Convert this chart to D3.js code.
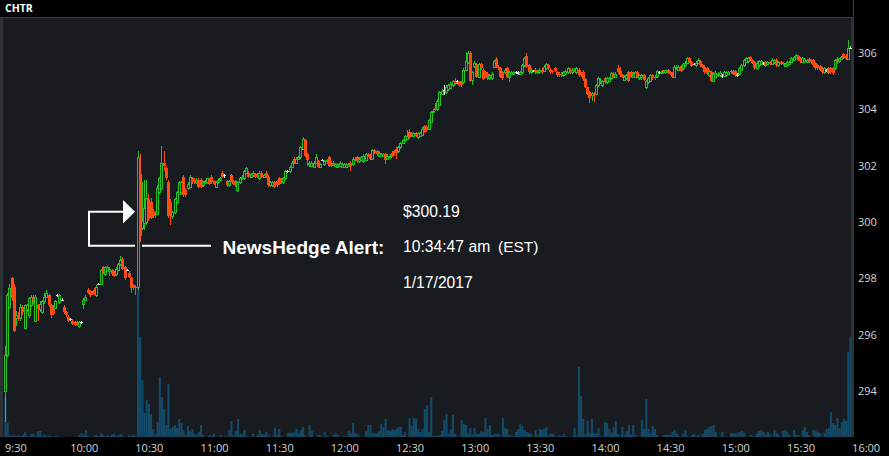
<!DOCTYPE html>
<html><head><meta charset="utf-8">
<script src="https://cdn.jsdelivr.net/npm/d3@7"></script>
<style>html,body{margin:0;padding:0;background:#000;overflow:hidden}svg{display:block}</style>
</head><body>
<svg id="chart" width="889" height="456"></svg>
<script>
// ---------------- data ----------------
const symbol = "CHTR";
const sessionStart = [2017, 0, 17, 9, 30];
const sessionEnd = [2017, 0, 17, 16, 0];
const priceTicks = [294, 296, 298, 300, 302, 304, 306];
const alertLabel = "NewsHedge Alert:";
const alertPrice = "$300.19";
const alertTime = "10:34:47 am";
const alertZone = "(EST)";
const alertDate = "1/17/2017";

const open = [
294.00,295.30,297.00,298.00,297.70,296.60,296.70,296.60,297.00,296.25,
296.90,296.70,297.05,297.35,296.50,297.05,296.90,296.80,297.20,297.35,
297.40,297.05,297.00,296.95,297.40,297.15,297.25,297.00,296.80,296.65,
296.55,296.50,296.45,296.45,296.30,296.45,297.10,297.25,297.60,297.55,
297.50,297.60,297.40,297.80,297.80,298.40,298.15,298.30,298.25,298.30,
298.20,298.15,298.30,298.50,298.70,298.40,298.30,298.20,298.00,297.75,
297.70,297.70,301.70,299.80,299.95,300.00,300.80,300.70,300.35,300.30,
300.30,301.05,301.20,302.10,301.90,301.40,300.70,300.20,300.35,300.70,
301.00,301.05,301.60,301.15,301.20,301.25,301.55,301.50,301.40,301.50,
301.50,301.30,301.40,301.40,301.50,301.60,301.45,301.25,301.40,301.50,
301.75,301.65,301.45,301.30,301.65,301.45,301.45,301.15,301.40,301.55,
301.55,301.75,301.75,301.60,301.65,301.70,301.70,301.55,301.75,301.60,
301.75,301.60,301.30,301.30,301.40,301.45,301.55,301.50,301.40,301.55,
301.80,301.80,301.95,302.25,302.10,302.25,302.30,302.60,302.90,302.40,
302.05,302.00,301.95,302.10,302.15,301.95,302.20,302.05,302.15,302.30,
302.10,302.10,302.00,301.95,302.00,301.95,301.95,301.95,302.00,302.10,
302.05,302.25,302.30,302.15,302.20,302.15,302.20,302.40,302.35,302.25,
302.55,302.50,302.35,302.35,302.35,302.40,302.25,302.30,302.45,302.50,
302.60,302.50,302.65,302.80,302.90,302.95,303.20,303.15,303.05,303.15,
303.00,303.05,303.10,303.40,303.35,303.30,303.55,303.90,304.05,304.00,
304.15,304.55,304.68,304.60,304.70,304.75,304.85,304.98,304.98,304.98,
304.95,304.95,305.40,305.67,306.00,305.03,305.53,305.60,305.15,305.60,
305.40,305.30,305.25,305.10,305.10,305.50,305.77,305.50,305.45,305.30,
305.30,305.45,305.15,305.25,305.25,305.30,305.28,305.25,305.30,305.55,
305.90,305.55,305.30,305.35,305.40,305.30,305.30,305.40,305.35,305.45,
305.55,305.40,305.35,305.45,305.30,305.25,305.25,305.20,305.25,305.30,
305.40,305.30,305.35,305.30,305.40,305.25,305.30,305.07,304.78,304.60,
304.50,304.57,304.55,304.85,304.95,304.85,305.10,304.96,304.98,305.10,
305.25,305.15,305.45,305.35,305.20,305.05,305.10,305.30,305.30,305.15,
305.15,305.30,305.10,305.15,305.20,304.80,304.95,305.00,305.20,305.15,
305.17,305.30,305.28,305.38,305.30,305.38,305.30,305.25,305.13,305.45,
305.40,305.52,305.45,305.55,305.63,305.80,305.67,305.60,305.55,305.63,
305.70,305.55,305.50,305.45,305.22,305.30,305.00,305.15,305.20,305.20,
305.17,305.17,305.20,305.25,305.35,305.35,305.35,305.22,305.25,305.38,
305.56,305.67,305.70,305.85,305.74,305.67,305.45,305.56,305.60,305.62,
305.67,305.60,305.67,305.60,305.67,305.74,305.56,305.67,305.65,305.53,
305.56,305.60,305.67,305.75,305.81,305.88,305.81,305.67,305.70,305.67,
305.77,305.74,305.74,305.63,305.56,305.52,305.45,305.30,305.38,305.45,
305.45,305.45,305.45,305.77,305.70,305.78,305.95,305.90,305.78,306.18];

const high = [
295.60,297.50,297.80,298.05,297.80,296.85,296.80,297.10,297.05,297.10,
297.10,297.35,297.40,297.40,297.40,297.10,297.20,297.25,297.50,297.60,
297.45,297.10,297.05,297.25,297.45,297.45,297.30,297.05,296.85,296.70,
296.60,296.55,296.50,296.50,296.50,296.50,297.30,297.40,297.65,297.60,
297.55,297.65,297.75,297.85,298.35,298.45,298.45,298.45,298.40,298.35,
298.25,298.40,298.55,298.80,298.75,298.45,298.35,298.25,298.05,297.80,
297.75,302.50,302.40,301.40,301.50,301.50,301.00,300.85,300.45,300.40,
301.30,301.60,302.70,302.50,302.00,301.50,300.80,300.40,300.85,301.10,
301.45,301.45,301.65,301.20,301.40,301.65,301.60,301.55,301.55,301.55,
301.55,301.45,301.50,301.55,301.55,301.65,301.50,301.45,301.55,301.60,
301.80,301.70,301.50,301.50,301.70,301.50,301.50,301.45,301.60,301.65,
301.85,301.95,301.80,301.75,301.80,301.75,301.75,301.80,301.80,301.70,
301.80,301.65,301.45,301.45,301.45,301.50,301.60,301.55,301.60,301.85,
301.85,302.00,302.15,302.30,302.30,302.35,302.70,303.00,302.95,302.45,
302.15,302.15,302.15,302.40,302.20,302.10,302.25,302.20,302.25,302.35,
302.15,302.15,302.10,302.10,302.15,302.10,302.10,302.10,302.10,302.15,
302.30,302.30,302.35,302.30,302.35,302.40,302.45,302.45,302.40,302.60,
302.60,302.55,302.50,302.45,302.45,302.45,302.40,302.40,302.50,302.55,
302.65,302.70,302.85,302.95,303.10,303.25,303.30,303.20,303.20,303.20,
303.20,303.20,303.35,303.45,303.45,303.65,303.95,304.00,304.20,304.35,
304.65,304.70,304.85,304.85,304.90,304.95,305.05,305.10,305.05,305.00,
305.00,305.45,306.02,306.05,306.05,305.35,305.70,305.65,305.65,305.65,
305.45,305.35,305.30,305.25,305.30,305.75,305.85,305.55,305.50,305.35,
305.45,305.50,305.35,305.35,305.35,305.35,305.35,305.35,305.60,305.85,
306.00,305.60,305.45,305.40,305.45,305.40,305.45,305.45,305.55,305.65,
305.60,305.45,305.40,305.50,305.35,305.30,305.30,305.35,305.40,305.50,
305.45,305.45,305.45,305.50,305.45,305.30,305.40,305.10,304.80,304.65,
304.60,304.60,304.90,305.15,305.10,305.05,305.15,305.15,305.15,305.30,
305.30,305.30,305.55,305.50,305.25,305.20,305.25,305.35,305.35,305.30,
305.35,305.35,305.25,305.25,305.25,305.05,305.15,305.25,305.25,305.20,
305.40,305.35,305.35,305.40,305.40,305.42,305.35,305.30,305.55,305.55,
305.55,305.55,305.65,305.70,305.85,305.85,305.70,305.65,305.70,305.80,
305.75,305.60,305.55,305.50,305.40,305.35,305.30,305.35,305.30,305.35,
305.25,305.35,305.35,305.35,305.40,305.40,305.40,305.28,305.50,305.60,
305.78,305.85,305.85,305.88,305.78,305.70,305.70,305.75,305.75,305.68,
305.72,305.70,305.70,305.80,305.78,305.80,305.70,305.70,305.68,305.62,
305.72,305.72,305.85,305.88,305.96,305.92,305.85,305.85,305.82,305.78,
305.82,305.78,305.78,305.68,305.60,305.56,305.50,305.50,305.42,305.50,
305.48,305.50,305.78,305.85,305.82,305.88,306.00,305.95,306.45,306.22];

const low = [
292.90,295.20,296.90,297.20,296.10,296.30,296.50,296.50,296.70,296.20,
296.80,296.60,297.00,297.10,296.45,296.50,296.80,296.75,297.10,297.30,
297.00,296.60,296.70,296.90,297.35,297.10,297.20,296.75,296.65,296.45,
296.50,296.35,296.30,296.30,296.25,296.40,296.90,297.20,297.45,297.35,
297.40,297.40,297.35,297.75,297.75,298.15,298.10,298.25,298.10,298.10,
298.05,298.10,298.25,298.45,298.30,297.95,298.25,298.00,297.50,297.60,
297.40,297.60,299.30,299.70,299.70,299.90,300.05,300.10,300.15,300.15,
300.25,301.00,301.15,301.80,301.50,300.15,299.90,300.10,300.30,300.65,
300.95,301.00,300.90,300.90,301.15,301.20,301.35,301.35,301.35,301.20,
301.20,301.25,301.35,301.35,301.30,301.35,301.30,301.20,301.35,301.45,
301.55,301.55,301.25,301.25,301.40,301.30,301.25,301.05,301.35,301.50,
301.50,301.70,301.55,301.55,301.60,301.55,301.55,301.50,301.55,301.55,
301.55,301.25,301.25,301.25,301.20,301.25,301.30,301.35,301.35,301.50,
301.75,301.75,301.90,302.05,302.05,302.20,302.25,302.55,302.30,302.00,
301.95,301.95,301.90,302.05,301.90,301.90,302.15,302.00,302.05,301.95,
301.95,302.00,301.95,301.90,301.95,301.90,301.90,301.90,301.95,301.80,
302.00,302.15,302.10,302.10,302.15,302.10,302.15,302.30,302.20,302.20,
302.40,302.35,302.30,302.30,302.30,302.05,302.20,302.25,302.30,302.35,
302.25,302.45,302.60,302.75,302.85,302.90,302.95,303.00,303.00,303.00,
302.95,303.00,303.05,303.15,303.20,303.25,303.50,303.85,303.95,303.95,
304.10,304.50,304.50,304.55,304.65,304.70,304.80,304.85,304.90,304.80,
304.80,304.90,305.35,305.60,304.95,304.85,305.45,305.10,305.10,305.40,
305.05,305.10,305.05,305.05,305.05,305.45,305.45,305.40,305.10,305.05,
305.25,305.10,304.95,305.20,305.20,305.25,305.20,305.20,305.25,305.50,
305.45,305.25,305.25,305.30,305.25,305.25,305.25,305.25,305.30,305.40,
305.40,305.25,305.25,305.30,305.15,305.15,305.15,305.15,305.20,305.25,
305.25,305.25,305.30,305.25,305.15,305.15,305.00,304.75,304.50,304.20,
304.30,304.25,304.50,304.80,304.90,304.80,304.90,304.90,304.95,305.05,
305.10,305.10,305.25,305.15,305.10,305.00,305.05,304.95,305.10,305.10,
305.10,305.10,305.05,305.05,305.00,304.70,304.90,304.95,305.05,305.05,
305.10,305.25,305.25,305.25,305.25,305.25,305.20,305.10,305.10,305.40,
305.35,305.30,305.40,305.50,305.60,305.65,305.50,305.55,305.50,305.60,
305.50,305.45,305.25,305.20,305.15,304.95,304.95,305.10,305.15,305.15,
305.10,305.15,305.15,305.20,305.25,305.20,305.15,305.15,305.20,305.35,
305.50,305.62,305.65,305.70,305.60,305.40,305.40,305.50,305.55,305.55,
305.50,305.55,305.55,305.55,305.60,305.50,305.50,305.55,305.55,305.50,
305.50,305.55,305.62,305.70,305.78,305.70,305.65,305.62,305.65,305.62,
305.62,305.60,305.50,305.40,305.40,305.35,305.25,305.25,305.32,305.25,
305.25,305.20,305.40,305.60,305.65,305.74,305.78,305.74,305.74,306.12];

const close = [
295.30,297.40,297.65,297.30,296.15,296.70,296.60,297.00,296.80,297.05,
297.05,297.30,297.35,297.20,297.35,296.90,297.10,297.20,297.35,297.50,
297.05,296.70,296.75,297.20,297.40,297.40,297.25,296.80,296.70,296.50,
296.55,296.40,296.35,296.35,296.45,296.45,297.25,297.35,297.50,297.40,
297.45,297.45,297.70,297.80,298.30,298.20,298.40,298.40,298.35,298.15,
298.10,298.35,298.50,298.65,298.35,298.00,298.30,298.05,297.65,297.70,
297.65,302.30,299.50,300.05,300.50,300.85,300.10,300.15,300.20,300.25,
301.20,301.55,302.10,302.00,301.55,300.20,300.20,300.35,300.80,301.05,
301.40,301.40,300.95,300.95,301.35,301.60,301.40,301.40,301.50,301.25,
301.25,301.40,301.45,301.55,301.35,301.40,301.35,301.40,301.50,301.55,
301.60,301.65,301.30,301.45,301.45,301.35,301.30,301.40,301.55,301.60,
301.80,301.90,301.60,301.70,301.75,301.60,301.60,301.75,301.60,301.65,
301.60,301.30,301.40,301.40,301.25,301.30,301.35,301.40,301.55,301.80,
301.80,301.95,302.10,302.10,302.25,302.30,302.65,302.95,302.35,302.20,
302.10,302.10,302.10,302.30,301.95,302.05,302.20,302.15,302.20,302.00,
302.00,302.05,302.05,302.05,302.10,302.05,302.05,302.05,302.05,302.00,
302.25,302.20,302.15,302.25,302.30,302.35,302.40,302.35,302.25,302.55,
302.45,302.40,302.45,302.40,302.40,302.20,302.35,302.35,302.35,302.45,
302.45,302.65,302.80,302.90,303.05,303.05,303.00,303.05,303.15,303.05,
303.15,303.15,303.30,303.20,303.25,303.60,303.90,303.95,303.97,304.30,
304.60,304.65,304.68,304.78,304.85,304.90,305.00,304.90,304.98,304.85,
304.85,305.40,305.70,306.00,305.00,305.30,305.65,305.15,305.60,305.45,
305.07,305.15,305.10,305.20,305.25,305.70,305.50,305.45,305.15,305.10,
305.40,305.15,305.30,305.30,305.30,305.30,305.28,305.30,305.55,305.80,
305.50,305.30,305.40,305.35,305.30,305.35,305.40,305.30,305.50,305.60,
305.45,305.30,305.30,305.35,305.20,305.20,305.20,305.30,305.35,305.45,
305.30,305.40,305.40,305.45,305.20,305.20,305.07,304.78,304.55,304.40,
304.57,304.50,304.85,305.10,305.00,305.00,304.96,305.10,305.10,305.28,
305.15,305.25,305.30,305.20,305.15,305.15,305.20,305.00,305.15,305.25,
305.30,305.15,305.20,305.20,305.05,305.00,305.10,305.20,305.10,305.10,
305.35,305.30,305.33,305.30,305.38,305.28,305.25,305.13,305.50,305.50,
305.50,305.35,305.60,305.65,305.80,305.67,305.53,305.60,305.65,305.74,
305.55,305.50,305.30,305.25,305.35,305.00,305.25,305.28,305.25,305.28,
305.17,305.30,305.30,305.33,305.30,305.25,305.20,305.22,305.45,305.56,
305.74,305.80,305.80,305.74,305.65,305.45,305.65,305.70,305.70,305.62,
305.53,305.67,305.60,305.74,305.74,305.56,305.67,305.60,305.60,305.60,
305.67,305.67,305.80,305.85,305.92,305.74,305.70,305.81,305.78,305.74,
305.67,305.67,305.56,305.45,305.45,305.38,305.30,305.45,305.38,305.28,
305.30,305.28,305.75,305.67,305.80,305.85,305.81,305.78,306.17,306.18];

// volume per minute (hundreds of shares, estimated)
const volume = [
40,14,2,1,2,1,2,1,2,5,
1,1,3,3,1,6,6,1,2,1,
1,1,0,1,1,0,0,0,0,0,
0,0,0,0,2,4,2,7,1,0,
0,2,2,1,4,2,1,2,1,2,
3,1,2,3,1,0,0,2,1,2,
1,151,100,57,24,37,33,23,8,3,
15,60,40,28,12,53,8,10,12,9,
18,14,7,2,11,6,8,3,2,5,
12,2,0,0,2,1,3,0,0,2,
0,1,0,7,16,2,6,18,3,3,
7,1,0,0,3,0,2,7,3,2,
5,2,0,1,9,2,8,1,0,0,
4,4,4,5,8,4,7,10,2,0,
12,6,0,0,2,2,0,5,1,0,
0,2,4,2,0,0,1,0,6,4,
14,4,3,1,0,0,6,12,12,4,
4,4,6,13,10,18,7,6,8,7,
8,10,10,2,5,0,19,11,19,18,
8,5,8,28,32,5,40,1,1,1,
2,6,17,23,3,8,22,3,1,0,
17,13,12,4,9,2,9,3,3,6,
5,19,8,12,2,3,3,3,0,19,
9,8,2,1,1,5,8,13,11,7,
5,4,3,0,7,2,8,7,8,10,
2,4,3,1,0,2,1,3,1,0,
0,1,9,1,70,41,18,3,16,4,
18,4,4,9,1,0,15,14,8,4,
10,16,3,1,10,2,6,12,2,12,
2,0,0,17,8,38,8,4,11,8,
2,0,0,2,2,2,2,5,7,4,
1,0,3,7,1,0,2,3,1,2,
0,3,7,8,10,11,12,5,0,0,
5,1,0,0,4,4,4,4,5,6,
4,0,0,2,1,1,4,6,7,5,
2,5,3,0,7,4,2,0,6,7,
5,2,0,7,2,2,0,7,10,5,
2,0,7,6,5,4,0,4,8,9,
25,14,12,19,9,15,18,16,85,100];

// ---------------- layout ----------------
const W = 889, H = 456;
const plot = {left: 0, right: 854, top: 18, bottom: 437};
const COLORS = {
  bg: "#000000", plot: "#181b1f", strip: "#2e3135", up: "#22c322", down: "#ff4a12",
  doji: "#e4e4e4", vol: "#144b69", axisText: "#d4d4d4"
};

const svg = d3.select("#chart");
svg.append("rect").attr("width", W).attr("height", H).attr("fill", COLORS.bg);

// plot background
svg.append("rect").attr("x", 0).attr("y", plot.top).attr("width", 851).attr("height", plot.bottom - plot.top)
  .attr("fill", COLORS.plot);
// side strips
svg.append("rect").attr("x", 0).attr("y", plot.top).attr("width", 3).attr("height", plot.bottom - plot.top).attr("fill", COLORS.strip);
svg.append("rect").attr("x", 851).attr("y", plot.top).attr("width", 3).attr("height", plot.bottom - plot.top).attr("fill", COLORS.strip);
// header separator
svg.append("rect").attr("x", 0).attr("y", 17).attr("width", 854).attr("height", 1).attr("fill", "#3a3d41");
svg.append("rect").attr("x", 853).attr("y", 0).attr("width", 1).attr("height", 18).attr("fill", "#3a3d41");

svg.append("text").attr("x", 5).attr("y", 12).attr("fill", "#ffffff")
  .attr("font-family", "'Open Sans', 'DejaVu Sans', sans-serif").attr("font-weight", "bold").attr("font-size", "10.5px")
  .text(symbol);

// scales
const t0 = new Date(...sessionStart), t1 = new Date(...sessionEnd);
const times = open.map((d, i) => d3.timeMinute.offset(t0, i));
const x = d3.scaleTime().domain([t0, t1]).range([4.5, 851.6]);
const step = x(d3.timeMinute.offset(t0, 1)) - x(t0);
const y = d3.scaleLinear().domain([292.38, 307.23]).range([plot.bottom, plot.top]);
const yVol = d3.scaleLinear().domain([0, d3.max(volume)]).range([plot.bottom, plot.bottom - 151]);

const candles = times.map((t, i) => ({t, o: open[i], h: high[i], l: low[i], c: close[i], v: volume[i]}));

// volume
svg.append("g").selectAll("rect").data(candles.filter(d => d.v > 0)).join("rect")
  .attr("x", d => x(d.t))
  .attr("width", step - 0.1)
  .attr("y", d => yVol(d.v))
  .attr("height", d => plot.bottom - yVol(d.v))
  .attr("fill", COLORS.vol);

// candles
const gC = svg.append("g").attr("shape-rendering", "crispEdges");
candles.forEach(d => {
  const cx = x(d.t) + step / 2;
  const c = Math.floor(cx);
  const col = d.c > d.o ? COLORS.up : (d.c < d.o ? COLORS.down : COLORS.doji);
  const yT = Math.round(y(Math.max(d.o, d.c)));
  const yB = Math.round(y(Math.min(d.o, d.c)));
  const yH = Math.round(y(d.h)), yL = Math.round(y(d.l));
  gC.append("line").attr("x1", c + 0.5).attr("x2", c + 0.5).attr("y1", yH).attr("y2", yL)
    .attr("stroke", col).attr("stroke-width", 1);
  if (d.c > d.o) {
    const hgt = Math.max(yB - yT, 1);
    gC.append("rect").attr("x", c - 0.5).attr("y", yT + 0.5).attr("width", 2).attr("height", hgt)
      .attr("fill", COLORS.plot).attr("stroke", col).attr("stroke-width", 1);
  } else if (d.c < d.o) {
    gC.append("rect").attr("x", c - 1).attr("y", yT).attr("width", 3).attr("height", Math.max(yB - yT, 1))
      .attr("fill", col);
  } else {
    gC.append("rect").attr("x", c - 1).attr("y", yT).attr("width", 3).attr("height", 1).attr("fill", col);
  }
});

// axes
const axisFont = "'Open Sans', 'Noto Sans', sans-serif";
const yAxis = svg.append("g").attr("transform", `translate(854,0)`)
  .call(d3.axisRight(y).tickValues(priceTicks).tickSize(0).tickPadding(4).tickFormat(d3.format("d")));
yAxis.select(".domain").remove();
yAxis.selectAll("text").attr("fill", COLORS.axisText).attr("font-family", axisFont).attr("font-size", "11px");

const xAxis = svg.append("g").attr("transform", `translate(0,${plot.bottom})`)
  .call(d3.axisBottom(x).ticks(d3.timeMinute.every(30)).tickSize(0).tickPadding(7).tickFormat(d3.timeFormat("%-H:%M")));
xAxis.select(".domain").remove();
xAxis.selectAll("text").attr("fill", COLORS.axisText).attr("font-family", axisFont).attr("font-size", "11px")
  .attr("text-anchor", "start");

// annotation
const ann = svg.append("g");
ann.append("path").attr("d", "M124,211.7 H89 V245.8 H135 M142,245.8 H211")
  .attr("fill", "none").attr("stroke", "#ffffff").attr("stroke-width", 2);
ann.append("path").attr("d", "M123,200 L135,211.7 L123,223.5 Z").attr("fill", "#ffffff");
const annFont = "'Liberation Sans', Arial, sans-serif";
ann.append("text").attr("x", 222.5).attr("y", 253.5).attr("fill", "#ffffff").attr("font-family", annFont)
  .attr("font-weight", "bold").attr("font-size", "19px").text(alertLabel);
ann.append("text").attr("x", 403).attr("y", 216.6).attr("fill", "#ffffff").attr("font-family", annFont)
  .attr("font-size", "15.7px").text(alertPrice);
ann.append("text").attr("x", 403).attr("y", 252.3).attr("fill", "#ffffff").attr("font-family", annFont)
  .attr("font-size", "15.7px").text(alertTime);
ann.append("text").attr("x", 498).attr("y", 252.3).attr("fill", "#ffffff").attr("font-family", annFont)
  .attr("font-size", "15.5px").text(alertZone);
ann.append("text").attr("x", 403).attr("y", 288).attr("fill", "#ffffff").attr("font-family", annFont)
  .attr("font-size", "15.7px").text(alertDate);
</script>
</body></html>
